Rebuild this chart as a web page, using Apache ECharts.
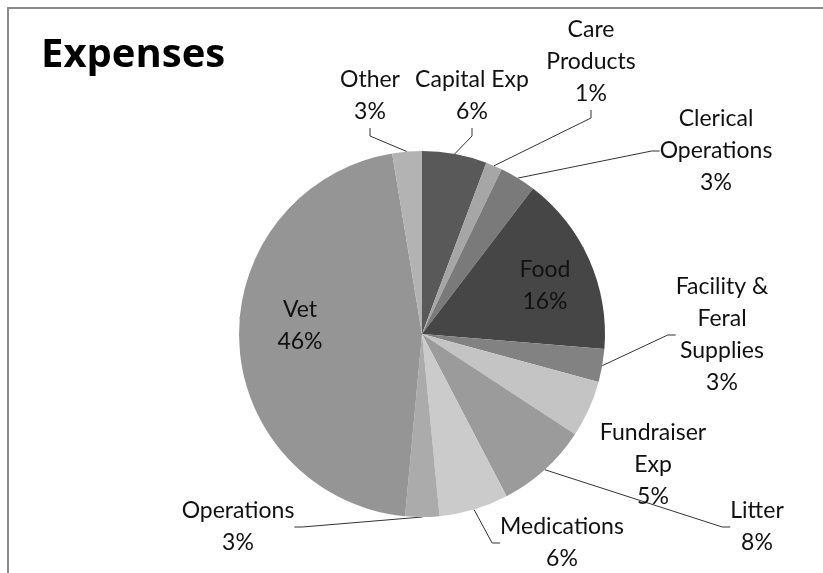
<!DOCTYPE html>
<html>
<head>
<meta charset="utf-8">
<script src="https://cdn.jsdelivr.net/npm/echarts@6/dist/echarts.min.js"></script>
<style>
  html, body { margin: 0; padding: 0; background: #fff; overflow: hidden; }
  #chart { width: 823px; height: 573px; }
</style>
</head>
<body>
<div id="chart"></div>
<script>
// slices, clockwise from 12 o'clock
var categories = ['Capital Exp', 'Care\nProducts', 'Clerical\nOperations', 'Food',
  'Facility &\nFeral\nSupplies', 'Fundraiser\nExp', 'Litter', 'Medications',
  'Operations', 'Vet', 'Other'];
var values = [5.7, 1.45, 3.2, 15.9, 2.9, 5.0, 8.1, 6.1, 3.0, 45.8, 2.6];
var colors = ['#595959', '#a6a6a6', '#7a7a7a', '#464646', '#828282', '#c4c4c4',
  '#9b9b9b', '#cbcbcb', '#ababab', '#959595', '#b3b3b3'];

// where Excel put each label (centre of the text block)
var labelPos = [[472, 96], [591, 62], [716, 151], [545, 286], [722, 335],
  [653, 465], [757, 527], [562, 543], [238, 527], [300, 326], [370, 96]];
var insideLabels = ['Food', 'Vet'];
var noLine = ['Fundraiser\nExp'];

var chart = echarts.init(document.getElementById('chart'));

var data = categories.map(function (name, i) {
  var item = { name: name, value: values[i], itemStyle: { color: colors[i] } };
  if (insideLabels.indexOf(name) >= 0) {
    item.label = { position: 'inner' };
  }
  if (noLine.indexOf(name) >= 0) {
    item.labelLine = { show: false };
  }
  return item;
});

chart.setOption({
  animation: false,
  // chart-area frame: only its top and left edges are in view
  graphic: [{
    type: 'polyline',
    silent: true,
    shape: { points: [[8, 580], [8, 8], [830, 8]] },
    style: { stroke: '#8a8a8a', lineWidth: 2, fill: null }
  }],
  title: {
    text: 'Expenses',
    left: 36,
    top: 31,
    textStyle: { fontFamily: 'Open Sans', fontWeight: 'bold', fontSize: 40, color: '#000' }
  },
  series: [{
    type: 'pie',
    center: [422, 334],
    radius: 183,
    startAngle: 90,
    clockwise: true,
    percentPrecision: 2,
    avoidLabelOverlap: false,
    data: data,
    label: {
      show: true,
      position: 'outside',
      fontFamily: 'Lato',
      fontSize: 23,
      lineHeight: 32,
      color: '#111',
      align: 'center',
      formatter: function (p) {
        return p.name + '\n' + Math.round(p.percent) + '%';
      }
    },
    labelLine: {
      show: true,
      length: 10,
      length2: 8,
      lineStyle: { color: '#333', width: 1 }
    },
    labelLayout: function (p) {
      var pos = labelPos[p.dataIndex];
      return { x: pos[0], y: pos[1], align: 'center', verticalAlign: 'middle' };
    }
  }]
});
</script>
</body>
</html>
